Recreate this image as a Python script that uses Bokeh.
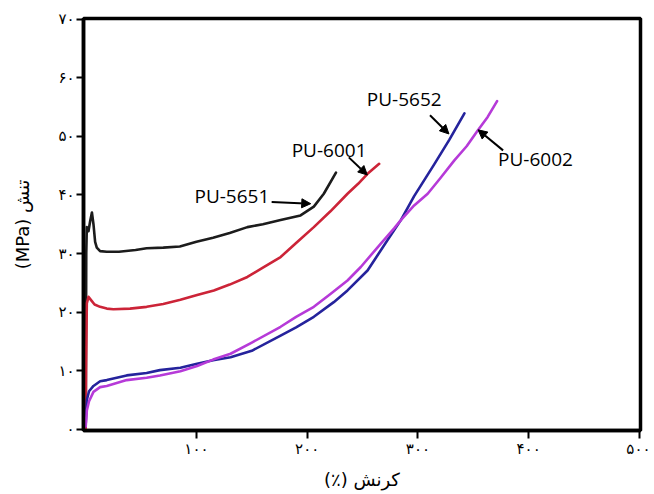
from bokeh.plotting import figure
from bokeh.models import FixedTicker, ColumnDataSource, Arrow, NormalHead, Range1d
from bokeh.core.properties import value
from bokeh.embed import file_html
from bokeh.resources import INLINE

# ---- data (strain %, stress MPa) ----
pu5651_x = [0, 0.5, 1, 2.5, 4, 5.6, 7, 8.5, 10, 13, 19, 30, 45, 55, 70, 85, 100, 115, 130, 146, 160, 176, 194, 206, 215, 226]
pu5651_y = [0, 30, 34.5, 33.8, 35.5, 37, 35, 32, 31, 30.4, 30.3, 30.3, 30.6, 30.9, 31.0, 31.2, 32, 32.7, 33.5, 34.5, 35.0, 35.7, 36.5, 38, 40.2, 43.8]

pu6001_x = [0, 0.3, 1, 2.5, 5, 8, 13, 19, 25, 40, 55, 70, 85.5, 100.6, 115.7, 130, 146, 160, 176, 190, 206, 221, 236.4, 246, 254.5, 265]
pu6001_y = [0, 10, 21.5, 22.6, 22.0, 21.3, 20.9, 20.6, 20.5, 20.6, 20.9, 21.4, 22.1, 22.9, 23.7, 24.7, 26, 27.6, 29.4, 31.8, 34.5, 37.2, 40.2, 41.9, 43.6, 45.3]

pu5652_x = [0, 1, 3, 7, 13, 19, 37, 55, 67, 85.5, 100.6, 115, 130.8, 150, 176, 190, 206, 224, 236.4, 254.5, 272.6, 284.6, 296.6, 314.7, 328.3, 342]
pu5652_y = [1, 5, 6.5, 7.4, 8.2, 8.4, 9.2, 9.6, 10.1, 10.5, 11.2, 11.8, 12.3, 13.4, 16, 17.4, 19.2, 21.7, 23.7, 27.1, 32.3, 35.7, 39.8, 45.2, 49.4, 53.9]

pu6002_x = [0, 1, 3, 7, 13, 19, 37, 55, 67, 85.5, 100.6, 115, 130.8, 150, 176, 190, 206, 221, 236.4, 248.4, 266.5, 278.5, 284.6, 296.6, 308.8, 320, 332.9, 344, 354, 363, 371.5]
pu6002_y = [0.5, 3.2, 4.8, 6.4, 7.2, 7.4, 8.4, 8.8, 9.2, 9.9, 10.8, 11.9, 12.9, 14.8, 17.5, 19.2, 20.9, 23.1, 25.4, 27.7, 31.7, 34.3, 35.7, 38.2, 40.2, 42.8, 45.9, 48.3, 51, 53.3, 56]

x_ticks = [100, 200, 300, 400, 500]
x_tick_labels = ["۱۰۰", "۲۰۰", "۳۰۰", "۴۰۰", "۵۰۰"]
y_ticks = [0, 10, 20, 30, 40, 50, 60, 70]
y_tick_labels = ["۰", "۱۰", "۲۰", "۳۰", "۴۰", "۵۰", "۶۰", "۷۰"]

x_title = "(٪) کرنش"
y_title = "(MPa) تنش"

# annotation labels and arrows (data coords)
label_names = ["PU-5651", "PU-6001", "PU-5652", "PU-6002"]
label_x = [98.2, 186.0, 253.8, 372.4]
label_y = [39.8, 47.6, 56.3, 46.1]
arrow_x0 = [167.9, 237.6, 310.9, 376.9]
arrow_y0 = [38.8, 46.4, 53.6, 47.6]
arrow_x1 = [203.2, 254.3, 328.0, 354.3]
arrow_y1 = [38.5, 43.4, 50.4, 51.1]

# ---- figure ----
p = figure(width=650, height=492, output_backend="svg", toolbar_location=None,
           x_range=Range1d(-2, 501), y_range=Range1d(-0.2, 70.1),
           min_border_left=83, min_border_right=10, min_border_top=18, min_border_bottom=62)
p.background_fill_color = "white"
p.border_fill_color = "white"
p.grid.visible = False
p.outline_line_color = "black"
p.outline_line_width = 3.5

series = [
    (pu5651_x, pu5651_y, "#1c1c1c"),
    (pu6001_x, pu6001_y, "#cc2438"),
    (pu5652_x, pu5652_y, "#25239c"),
    (pu6002_x, pu6002_y, "#b63ad8"),
]
for xs, ys, c in series:
    p.line(xs, ys, line_color=c, line_width=2.6, line_join="round", line_cap="round")

src = ColumnDataSource(dict(x=label_x, y=label_y, t=label_names))
p.text("x", "y", text="t", source=src, text_font=value("Open Sans"), text_font_size="19px",
       text_color="black", text_align="left", text_baseline="middle")

for xa, ya, xb, yb in zip(arrow_x0, arrow_y0, arrow_x1, arrow_y1):
    p.add_layout(Arrow(end=NormalHead(size=9, fill_color="black", line_color="black"),
                       x_start=xa, y_start=ya, x_end=xb, y_end=yb,
                       line_color="black", line_width=2))

for ax in (p.xaxis, p.yaxis):
    ax.axis_line_width = 3.5
    ax.axis_line_color = "black"
    ax.major_tick_line_width = 2
    ax.major_tick_line_color = "black"
    ax.major_tick_in = 0
    ax.minor_tick_line_color = None
    ax.major_label_text_font = "DejaVu Sans"
    ax.major_label_text_font_size = "15px"
    ax.major_label_text_color = "black"
    ax.axis_label_text_font = "DejaVu Sans"
    ax.axis_label_text_font_style = "normal"
    ax.axis_label_text_font_size = "18px"
    ax.axis_label_text_color = "black"

p.xaxis.ticker = FixedTicker(ticks=x_ticks)
p.xaxis.major_label_overrides = {t: l for t, l in zip(x_ticks, x_tick_labels)}
p.xaxis.major_tick_out = 8
p.xaxis.major_label_standoff = 1
p.xaxis.axis_label = x_title
p.xaxis.axis_label_standoff = 8

p.yaxis.ticker = FixedTicker(ticks=y_ticks)
p.yaxis.major_label_overrides = {t: l for t, l in zip(y_ticks, y_tick_labels)}
p.yaxis.major_tick_out = 7
p.yaxis.major_label_standoff = 2
p.yaxis.axis_label = y_title
p.yaxis.axis_label_standoff = 22

open("out.html", "w").write(file_html(p, INLINE))
